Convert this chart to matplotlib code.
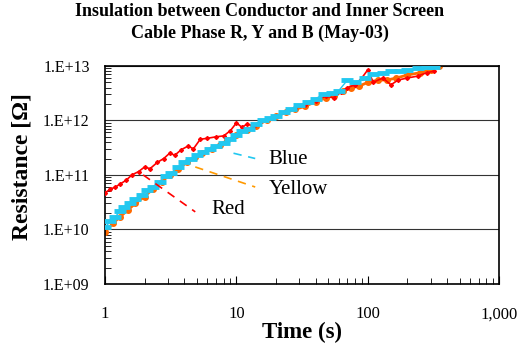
import matplotlib.pyplot as plt
import matplotlib.ticker as mticker
import numpy as np

# Time (s) and resistance (ohm)
red_t = [1.0, 1.1, 1.2, 1.3, 1.45, 1.6, 1.8, 2.0, 2.2, 2.5, 2.8, 3.1, 3.4, 3.8, 4.3, 4.7,
         5.3, 6.0, 7.0, 8.0, 9.0, 10, 11, 12, 13.5, 15, 17, 20, 24, 28, 33, 40, 48, 55,
         62, 70, 80, 90, 100, 110, 130, 150, 170, 200, 240, 280, 320]
red_r = [4.7e10, 5.5e10, 6.0e10, 6.8e10, 8.0e10, 1.0e11, 1.15e11, 1.4e11, 1.3e11, 1.7e11,
         2.0e11, 2.5e11, 2.3e11, 2.9e11, 3.4e11, 3.0e11, 4.5e11, 4.7e11, 5.0e11, 5.2e11,
         6.5e11, 9.0e11, 7.5e11, 8.5e11, 8.0e11, 9.5e11, 1.05e12, 1.2e12, 1.4e12, 1.7e12,
         1.9e12, 2.3e12, 2.8e12, 2.6e12, 3.3e12, 4.0e12, 4.5e12, 6.0e12, 8.5e12, 5.0e12,
         6.0e12, 4.5e12, 5.5e12, 6.0e12, 6.5e12, 7.5e12, 8.0e12]

blue_t = [1.0, 1.1, 1.2, 1.3, 1.4, 1.55, 1.7, 1.9, 2.1, 2.3, 2.6, 2.9, 3.2, 3.6, 4.0, 4.5,
          5.0, 5.6, 6.3, 7.0, 8.0, 9.0, 10, 11, 12.5, 14, 16, 18, 20, 23, 26, 30, 35, 40,
          46, 53, 60, 70, 80, 95, 110, 130, 150, 175, 200, 240, 280, 320]
blue_r = [1.1e10, 1.4e10, 1.7e10, 2.2e10, 2.6e10, 3.0e10, 3.6e10, 4.3e10, 5.2e10, 6.0e10,
          7.5e10, 9.5e10, 1.1e11, 1.4e11, 1.7e11, 2.0e11, 2.3e11, 2.6e11, 3.0e11, 3.4e11,
          3.8e11, 4.5e11, 5.5e11, 6.5e11, 7.0e11, 8.5e11, 1.0e12, 1.1e12, 1.2e12, 1.4e12,
          1.6e12, 1.9e12, 2.2e12, 2.5e12, 3.0e12, 3.2e12, 3.5e12, 5.5e12, 5.0e12, 6.0e12,
          7.0e12, 7.5e12, 8.0e12, 8.0e12, 8.5e12, 9.0e12, 9.5e12, 9.6e12]

yellow_t = [1.0, 1.15, 1.3, 1.5, 1.7, 2.0, 2.3, 2.7, 3.1, 3.6, 4.2, 4.8, 5.5, 6.5, 7.5, 8.5,
            10, 12, 14, 17, 20, 24, 28, 33, 40, 48, 55, 65, 75, 85, 100, 120, 140, 165,
            200, 250, 300, 350, 400]
yellow_r = [9.0e9, 1.3e10, 1.7e10, 2.3e10, 3.0e10, 4.0e10, 5.5e10, 7.5e10, 1.0e11, 1.3e11,
            1.7e11, 2.1e11, 2.5e11, 3.0e11, 3.6e11, 4.3e11, 5.3e11, 6.8e11, 8.0e11, 1.0e12,
            1.2e12, 1.4e12, 1.6e12, 1.8e12, 2.2e12, 2.6e12, 2.8e12, 3.5e12, 4.0e12, 4.2e12,
            5.0e12, 5.5e12, 5.5e12, 6.0e12, 6.8e12, 7.5e12, 8.5e12, 1.0e13, 1.2e13]

y_ticks = [1e9, 1e10, 1e11, 1e12, 1e13]
y_ticklabels = ['1.E+09', '1.E+10', '1.E+11', '1.E+12', '1.E+13']
x_ticks = [1, 10, 100, 1000]
x_ticklabels = ['1', '10', '100', '1,000']

plt.rcParams['font.family'] = ['Liberation Serif', 'DejaVu Serif']

fig = plt.figure(figsize=(5.2, 3.45), dpi=100)
ax = fig.add_axes([0.202, 0.177, 0.758, 0.632])

ax.plot(yellow_t, yellow_r, color='#FF6A00', lw=2, marker='o', ms=4, mec='#FF6A00', zorder=2)
ax.plot(red_t, red_r, color='#FF0000', lw=1.2, marker='D', ms=2, zorder=3)
ax.plot(blue_t, blue_r, color='#22C8F0', lw=1, marker='_', ms=9, mew=3.5, zorder=4)

ax.set_xscale('log')
ax.set_yscale('log')
ax.set_xlim(1, 1000)
ax.set_ylim(1e9, 1e13)
ax.set_yticks(y_ticks)
ax.set_yticklabels(y_ticklabels)
ax.set_xticks(x_ticks)
ax.set_xticklabels(x_ticklabels)
ax.yaxis.set_minor_locator(mticker.LogLocator(base=10, subs=np.arange(2, 10)))
ax.xaxis.set_minor_locator(mticker.LogLocator(base=10, subs=np.arange(2, 10)))
ax.yaxis.set_minor_formatter(mticker.NullFormatter())
ax.xaxis.set_minor_formatter(mticker.NullFormatter())
ax.tick_params(axis='both', which='both', direction='in')
ax.tick_params(axis='y', which='major', length=0, pad=11, labelsize=11.5)
ax.tick_params(axis='x', which='major', length=6, pad=16, labelsize=12)
ax.tick_params(axis='both', which='minor', length=4)
ax.grid(axis='y', which='major', color='#333333', lw=0.8)
for s in ax.spines.values():
    s.set_linewidth(1.2)

ax.plot([9.5, 13.9], [2.5e11, 2.0e11], color='#22C8F0', lw=1.2, ls=(0, (5, 4)), zorder=5)
ax.plot([4.86, 13.9], [1.4e11, 6.0e10], color='#FF9900', lw=1.2, ls=(0, (5, 4)), zorder=5)
ax.plot([1.95, 4.86], [1.0e11, 2.1e10], color='#FF0000', lw=1.2, ls=(0, (5, 4)), zorder=5)
ax.text(17.5, 1.9e11, 'Blue', fontsize=15, va='center')
ax.text(17.5, 5.3e10, 'Yellow', fontsize=15, va='center')
ax.text(6.5, 2.3e10, 'Red', fontsize=15, va='center')

ax.set_xlabel('Time (s)', fontsize=16.5, fontweight='bold', labelpad=0)
ax.set_ylabel('Resistance [Ω]', fontsize=17, fontweight='bold')
ax.yaxis.set_label_coords(-0.183, 0.54)
fig.suptitle('Insulation between Conductor and Inner Screen\nCable Phase R, Y and B (May-03)',
             fontsize=13, fontweight='bold', y=0.99, linespacing=1.3)

fig.savefig('out.png', dpi=100)
